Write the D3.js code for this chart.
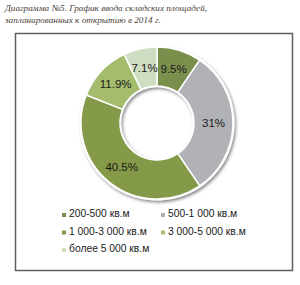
<!DOCTYPE html>
<html>
<head>
<meta charset="utf-8">
<script src="https://cdn.jsdelivr.net/npm/d3@7"></script>
<style>
  body { margin: 0; background: #fff; }
  svg { display: block; }
</style>
</head>
<body>
<div id="chart"></div>
<script>
// chart data
var categories = ["200-500 кв.м", "500-1 000 кв.м", "1 000-3 000 кв.м", "3 000-5 000 кв.м", "более 5 000 кв.м"];
var shares = [9.5, 31, 40.5, 11.9, 7.1];
var labels = ["9.5%", "31%", "40.5%", "11.9%", "7.1%"];
var colors = ["#7b8f4d", "#b1b2b6", "#849a48", "#a5bc6c", "#cfdec2"];
var titleLines = ["Диаграмма №5. График ввода складских площадей,", "запланированных к открытию в 2014 г."];

var width = 300, height = 285;
var cx = 157, cy = 123, outerR = 76, innerR = 37;

var svg = d3.select("#chart").append("svg")
    .attr("width", width)
    .attr("height", height);

var defs = svg.append("defs");
var f = defs.append("filter").attr("id", "shadow")
    .attr("x", "-20%").attr("y", "-20%").attr("width", "140%").attr("height", "140%");
f.append("feDropShadow")
    .attr("dx", 1.5).attr("dy", 2)
    .attr("stdDeviation", 1.5)
    .attr("flood-color", "#000")
    .attr("flood-opacity", 0.45);

// title
svg.append("g").selectAll("text")
    .data(titleLines)
    .enter().append("text")
    .attr("x", 5)
    .attr("y", function(d, i) { return 11 + i * 12; })
    .attr("fill", "#4b4036")
    .style("font-family", "'Liberation Serif', 'DejaVu Serif', serif")
    .style("font-style", "italic")
    .style("font-size", "9.2px")
    .text(function(d) { return d; });

// frame
svg.append("rect")
    .attr("x", 15.5).attr("y", 33.5)
    .attr("width", 277).attr("height", 237)
    .attr("fill", "none")
    .attr("stroke", "#5f5f5f")
    .attr("stroke-width", 1.5);

var pie = d3.pie().sort(null).value(function(d) { return d; });
var arc = d3.arc().innerRadius(innerR).outerRadius(outerR);
var arcs = pie(shares);

var g = svg.append("g").attr("transform", "translate(" + cx + "," + cy + ")");

// white ring behind with shadow
g.append("path")
    .attr("d", d3.arc().innerRadius(innerR - 1).outerRadius(outerR + 1.5)({startAngle: 0, endAngle: 2 * Math.PI}))
    .attr("fill", "#fff")
    .attr("filter", "url(#shadow)");

g.selectAll("path.slice")
    .data(arcs)
    .enter().append("path")
    .attr("class", "slice")
    .attr("d", arc)
    .attr("fill", function(d, i) { return colors[i]; })
    .attr("stroke", "#fff")
    .attr("stroke-width", 1.5);

g.selectAll("text.lbl")
    .data(arcs)
    .enter().append("text")
    .attr("class", "lbl")
    .attr("transform", function(d) { return "translate(" + arc.centroid(d) + ")"; })
    .attr("text-anchor", "middle")
    .attr("dy", "0.35em")
    .attr("fill", "#1a1a1a")
    .style("font-family", "'Liberation Sans', Arial, sans-serif")
    .style("font-size", "11.5px")
    .text(function(d, i) { return labels[i]; });

// legend
var leg = svg.append("g").selectAll("g")
    .data(categories)
    .enter().append("g")
    .attr("transform", function(d, i) {
        var col = i % 2, row = Math.floor(i / 2);
        return "translate(" + (62 + col * 99) + "," + (217 + row * 17.5) + ")";
    });

leg.append("rect")
    .attr("x", 0).attr("y", -4)
    .attr("width", 4).attr("height", 4)
    .attr("fill", function(d, i) { return colors[i]; });

leg.append("text")
    .attr("x", 7)
    .attr("y", 0)
    .attr("fill", "#1a1a1a")
    .style("font-family", "'Liberation Sans', Arial, sans-serif")
    .style("font-size", "10.3px")
    .text(function(d) { return d; });
</script>
</body>
</html>
